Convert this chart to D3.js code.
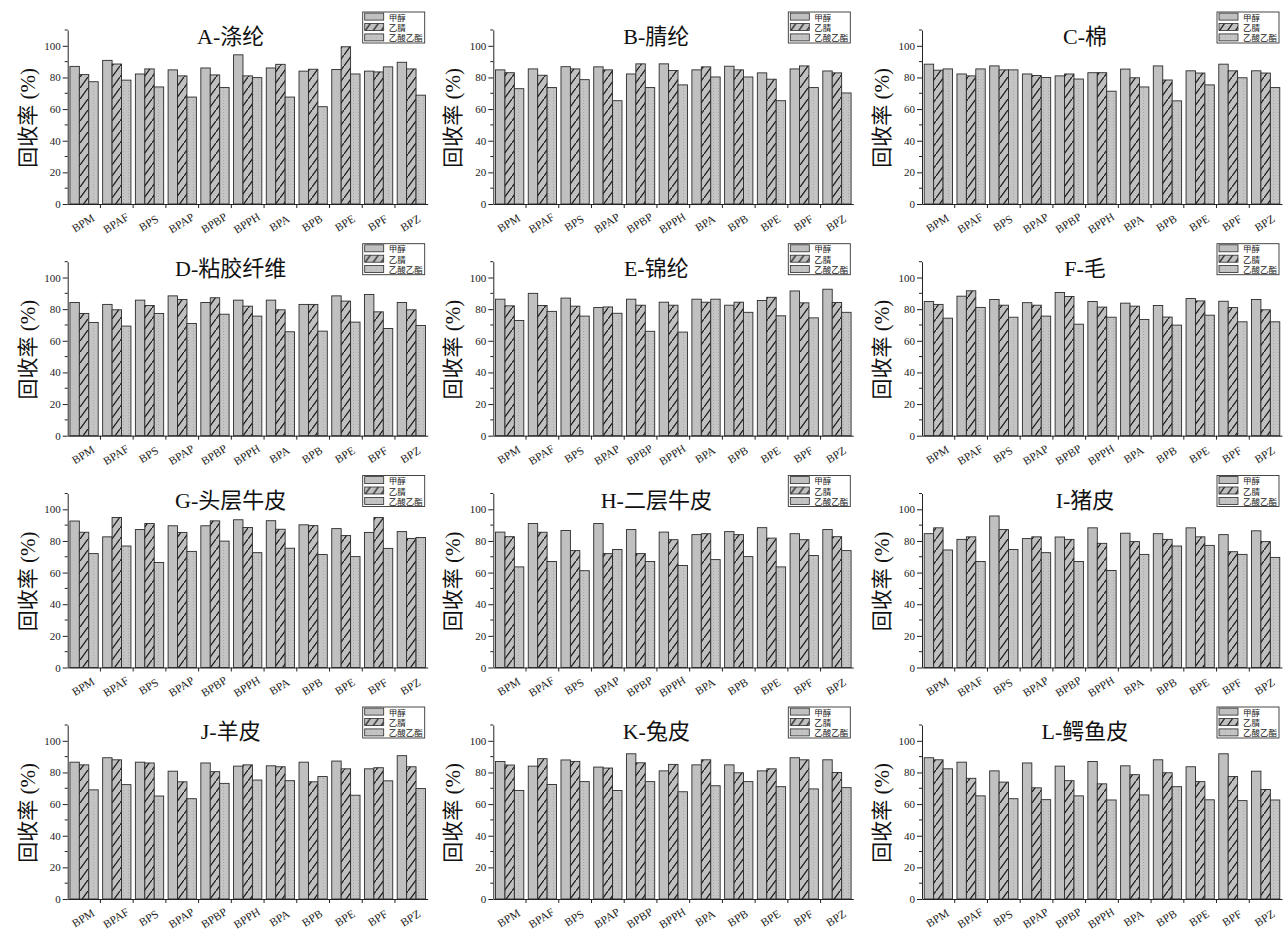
<!DOCTYPE html>
<html>
<head>
<meta charset="utf-8">
<script src="https://cdn.jsdelivr.net/npm/d3@7"></script>
<style>
  html, body { margin: 0; padding: 0; background: #fff; }
  svg { display: block; }
</style>
</head>
<body>
<svg id="chart" width="1288" height="942"></svg>
<script>
// ---------------- DATA ----------------
const categories = ["BPM","BPAF","BPS","BPAP","BPBP","BPPH","BPA","BPB","BPE","BPF","BPZ"];
const panelTitles = ["A-涤纶","B-腈纶","C-棉","D-粘胶纤维","E-锦纶","F-毛","G-头层牛皮","H-二层牛皮","I-猪皮","J-羊皮","K-兔皮","L-鳄鱼皮"];
const seriesNames = ["甲醇","乙腈","乙酸乙酯"];
const yTicks = [0,20,40,60,80,100];
const yMinorTicks = [10,30,50,70,90,110];
const yLabel = "回收率 (%)";

// 甲醇 (methanol), one row per panel A..L
const methanol = [
  [87.0, 90.8, 82.2, 84.8, 86.0, 94.3, 86.0, 84.0, 85.0, 84.0, 89.6],
  [84.8, 85.4, 86.8, 86.7, 82.2, 88.6, 84.8, 87.1, 82.9, 85.4, 84.1],
  [88.4, 82.2, 87.3, 82.2, 81.0, 83.0, 85.3, 87.3, 84.2, 88.4, 84.2],
  [84.2, 83.0, 85.7, 88.4, 84.2, 85.7, 85.7, 83.0, 88.4, 89.3, 84.2],
  [86.3, 90.0, 87.0, 81.0, 86.3, 84.4, 86.3, 82.5, 85.5, 91.5, 92.6],
  [84.8, 88.2, 86.1, 84.1, 90.5, 84.8, 83.8, 82.3, 86.7, 85.0, 86.1],
  [92.6, 82.6, 87.2, 89.6, 89.6, 93.4, 92.8, 90.2, 87.8, 85.4, 85.9],
  [85.6, 91.0, 86.6, 91.0, 87.2, 85.6, 84.0, 85.9, 88.4, 84.6, 87.2],
  [84.6, 81.0, 95.8, 81.5, 82.5, 88.3, 84.9, 84.6, 88.3, 84.0, 86.4],
  [86.5, 89.3, 86.5, 80.8, 86.0, 84.0, 84.2, 86.5, 87.2, 82.3, 90.6],
  [86.9, 84.0, 87.9, 83.4, 91.8, 81.0, 84.8, 84.8, 81.0, 89.3, 88.0],
  [89.3, 86.5, 81.0, 86.0, 84.0, 86.9, 84.2, 88.0, 83.6, 91.8, 80.8]
];
// 乙腈 (acetonitrile)
const acetonitrile = [
  [81.8, 88.5, 85.4, 81.0, 81.6, 81.0, 88.3, 85.2, 99.4, 83.5, 85.4],
  [83.0, 81.4, 85.4, 84.8, 88.6, 84.4, 86.7, 84.8, 78.9, 87.3, 82.9],
  [84.6, 81.0, 84.8, 81.2, 82.2, 83.0, 79.8, 78.4, 82.8, 84.2, 82.8],
  [77.3, 79.6, 82.3, 86.1, 87.2, 81.9, 79.6, 83.0, 85.1, 78.3, 79.6],
  [82.1, 82.3, 81.9, 81.4, 82.5, 82.5, 84.4, 84.4, 87.5, 84.0, 84.2],
  [83.0, 91.6, 82.5, 82.5, 88.0, 81.3, 81.9, 75.0, 85.2, 81.0, 79.6],
  [85.5, 94.8, 91.0, 85.4, 92.7, 88.5, 87.4, 89.7, 83.4, 94.8, 81.6],
  [82.7, 85.5, 73.9, 72.0, 72.0, 80.8, 84.6, 84.0, 81.8, 80.8, 82.7],
  [88.3, 82.6, 87.2, 82.6, 81.0, 78.5, 79.6, 81.0, 82.6, 73.2, 79.6],
  [84.8, 88.0, 86.0, 74.1, 80.5, 84.8, 83.6, 74.1, 82.3, 83.0, 83.6],
  [84.7, 88.7, 87.0, 82.8, 86.1, 85.1, 88.0, 79.8, 82.3, 88.0, 80.0],
  [88.0, 76.3, 73.9, 70.3, 74.8, 72.8, 78.6, 79.8, 74.2, 77.4, 69.2]
];
// 乙酸乙酯 (ethyl acetate)
const ethylAcetate = [
  [77.3, 78.3, 74.0, 67.6, 73.6, 79.9, 67.6, 61.5, 82.2, 86.7, 68.8],
  [72.9, 73.6, 78.6, 65.3, 73.6, 75.3, 80.3, 80.3, 65.3, 73.6, 70.2],
  [85.4, 85.4, 84.8, 80.0, 79.0, 71.3, 74.0, 65.2, 75.3, 79.8, 73.6],
  [71.6, 69.3, 77.3, 70.9, 76.8, 75.6, 65.7, 66.1, 71.8, 67.8, 69.7],
  [72.8, 78.6, 75.6, 77.4, 66.0, 65.5, 86.3, 78.0, 75.8, 74.5, 78.0],
  [74.3, 81.1, 74.9, 75.6, 70.5, 74.9, 73.5, 69.9, 76.2, 72.0, 72.0],
  [72.0, 76.8, 66.4, 73.4, 79.9, 72.6, 75.4, 71.4, 70.1, 75.3, 82.2],
  [63.6, 67.0, 61.2, 74.6, 67.0, 64.5, 68.2, 70.1, 63.6, 70.8, 73.9],
  [74.3, 67.0, 74.6, 72.6, 67.0, 61.3, 71.5, 76.8, 77.2, 71.5, 69.6],
  [69.0, 72.3, 65.1, 63.4, 73.1, 75.2, 74.8, 77.4, 65.6, 74.7, 69.8],
  [68.6, 72.4, 74.2, 68.6, 74.2, 67.8, 71.6, 74.2, 71.0, 69.6, 70.4],
  [82.3, 65.2, 63.4, 62.8, 65.2, 62.6, 65.8, 71.0, 62.7, 62.2, 62.6]
];

// ---------------- LAYOUT ----------------
const colX = [67.7, 493.3, 922];
const rowBase = [204, 435.7, 667.5, 899];
const plotW = 360, plotH = 174;
const serif = "'Liberation Serif','Times New Roman',serif";
const cjk = "'Liberation Serif','Noto Sans CJK SC',serif";

const svg = d3.select("#chart");
svg.append("rect").attr("width",1288).attr("height",942).attr("fill","#fff");

const defs = svg.append("defs");
const hatch = defs.append("pattern").attr("id","hatch").attr("patternUnits","userSpaceOnUse")
  .attr("width",8).attr("height",11);
hatch.append("rect").attr("width",8).attr("height",11).attr("fill","#c0c0c0");
hatch.append("path").attr("d","M0,11 L8,0").attr("stroke","#1a1a1a").attr("stroke-width",1.3);
const dots = defs.append("pattern").attr("id","dots").attr("patternUnits","userSpaceOnUse")
  .attr("width",5).attr("height",3);
dots.append("rect").attr("width",5).attr("height",3).attr("fill","#c4c4c4");
dots.append("rect").attr("x",3).attr("y",1).attr("width",0.8).attr("height",0.8).attr("fill","#9c9c9c");

const fills = ["#c0c0c0","url(#hatch)","url(#dots)"];
const seriesData = [methanol, acetonitrile, ethylAcetate];

panelTitles.forEach((title, p) => {
  const x0 = colX[p % 3];
  const base = rowBase[Math.floor(p / 3)];
  const g = svg.append("g");

  const x = d3.scaleBand().domain(categories).range([x0, x0 + plotW])
    .paddingInner(0.136).paddingOuter(0.068);
  const xs = d3.scaleBand().domain([0,1,2]).range([0, x.bandwidth()]);
  const y = d3.scaleLinear().domain([0,110]).range([base, base - plotH]);

  // bars
  seriesData.forEach((sd, s) => {
    g.append("g").selectAll("rect").data(sd[p]).join("rect")
      .attr("x", (d,i) => x(categories[i]) + xs(s))
      .attr("y", d => y(d))
      .attr("width", xs.bandwidth())
      .attr("height", d => y(0) - y(d))
      .attr("fill", fills[s])
      .attr("stroke", "#2b2b2b")
      .attr("stroke-width", 0.9);
  });

  // y axis
  const yAxis = d3.axisLeft(y).tickValues(yTicks).tickSize(5).tickSizeOuter(0);
  const ya = g.append("g").attr("transform", `translate(${x0},0)`).call(yAxis);
  ya.select(".domain").attr("stroke","#222");
  ya.selectAll(".tick line").attr("stroke","#222");
  ya.selectAll(".tick text").attr("font-family", serif).attr("font-size", 11).attr("fill","#222").attr("x",-7);
  ya.append("g").selectAll("line").data(yMinorTicks).join("line")
    .attr("x1",0).attr("x2",-3).attr("y1",d=>y(d)).attr("y2",d=>y(d)).attr("stroke","#222");

  // x axis
  const xAxis = d3.axisBottom(x).tickSize(0).tickSizeOuter(0);
  const xa = g.append("g").attr("transform", `translate(0,${base})`).call(xAxis);
  xa.select(".domain").attr("stroke","#222");
  xa.selectAll(".tick text")
    .attr("font-family", serif).attr("font-size", 11.5).attr("fill","#222")
    .attr("y",0).attr("dy","0.35em")
    .attr("text-anchor","middle")
    .attr("transform","translate(-1,19) rotate(-32)");
  const gapHalf = x.step() * x.paddingInner() / 2;
  xa.append("g").selectAll("line").data(categories.slice(1)).join("line")
    .attr("x1", d => x(d) - gapHalf).attr("x2", d => x(d) - gapHalf)
    .attr("y1", 0).attr("y2", 4).attr("stroke","#222");

  // title
  g.append("text").attr("x", x0 + 163).attr("y", base - 160)
    .attr("text-anchor","middle").attr("font-family", cjk).attr("font-size", 22).attr("fill","#111")
    .text(title);

  // y label
  g.append("text")
    .attr("transform", `translate(${x0 - 40},${base - plotH/2 + 1}) rotate(-90)`)
    .attr("text-anchor","middle").attr("dominant-baseline","central")
    .attr("font-family", cjk).attr("font-size", 21).attr("fill","#111")
    .text(yLabel);

  // legend
  const lx = x0 + plotW - 65, ly = base - 192;
  const lg = g.append("g").attr("transform", `translate(${lx},${ly})`);
  lg.append("rect").attr("width",62).attr("height",31).attr("fill","#fff").attr("stroke","#333").attr("stroke-width",0.9);
  seriesNames.forEach((nm, s) => {
    const cy = 4.6 + s * 10.4;
    lg.append("rect").attr("x",2).attr("y",cy - 3.5).attr("width",19).attr("height",7)
      .attr("fill", fills[s]).attr("stroke","#2b2b2b").attr("stroke-width",0.8);
    lg.append("text").attr("x",26).attr("y",cy).attr("dominant-baseline","central")
      .attr("font-family","'Noto Sans CJK SC',sans-serif").attr("font-size",8.5).attr("fill","#222")
      .text(nm);
  });
});
</script>
</body>
</html>
